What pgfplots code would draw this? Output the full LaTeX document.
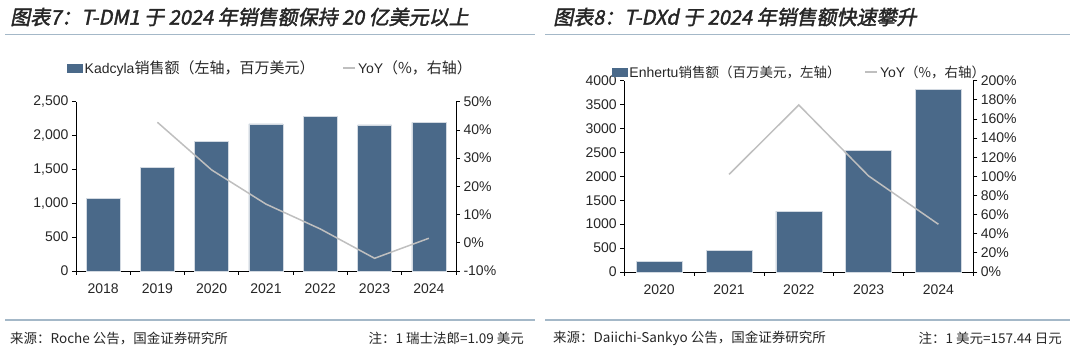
\documentclass[border=0pt]{standalone}
\usepackage{fontspec}
\setmainfont{Liberation Sans}
\newfontfamily\cjk{Noto Sans CJK SC}
\newfontfamily\titlefont[FakeSlant=0.2,FakeBold=2]{Noto Sans CJK SC}
\usepackage{pgfplots}
\pgfplotsset{compat=1.18}
\definecolor{barc}{RGB}{74,105,137}
\definecolor{linec}{RGB}{191,191,191}
\definecolor{rulec}{RGB}{164,184,200}
\definecolor{txt}{RGB}{38,38,38}
\pgfplotsset{
  common/.style={
    scale only axis,
    anchor=south west,
    tick align=outside,
    major tick length=4pt,
    minor tick length=4pt,
    every tick/.style={black, line width=0.8pt},
    axis line style={black, line width=0.8pt},
    /pgf/number format/assume math mode=true,
    tick label style={font=\fontsize{14}{14}\selectfont, text=txt},
    xticklabel style={yshift=-5pt},
    clip=false,
  },
  barimg/.style={legend image code/.code={\fill[barc] (0pt,-4pt) rectangle (15pt,4pt);}},
  lineimg/.style={legend image code/.code={\draw[linec, line width=1.5pt] (0pt,0pt) -- (12pt,0pt);}},
}
\begin{document}
\begin{tikzpicture}[x=1pt,y=1pt]
\path (0,0) rectangle (1080,352);
% ---------- titles and rules ----------
\node[anchor=west, text=txt, font=\titlefont\fontsize{20}{20}\selectfont, inner sep=0pt] at (10,335) {图表7：T-DM1 于 2024 年销售额保持 20 亿美元以上};
\node[anchor=west, text=txt, font=\titlefont\fontsize{20}{20}\selectfont, inner sep=0pt] at (553,335) {图表8：T-DXd 于 2024 年销售额快速攀升};
\draw[rulec, line width=1.5pt] (5,317.5) -- (535,317.5);
\draw[rulec, line width=1.5pt] (545,317.5) -- (1070,317.5);
\draw[rulec, line width=1.5pt] (5,32) -- (535,32);
\draw[rulec, line width=1.5pt] (545,32) -- (1070,32);
\node[anchor=west, text=txt, font=\cjk\fontsize{13.5}{13.5}\selectfont, inner sep=0pt] at (10,14) {来源：Roche 公告，国金证券研究所};
\node[anchor=east, text=txt, font=\cjk\fontsize{13.5}{13.5}\selectfont, inner sep=0pt] at (524,14) {注：1 瑞士法郎=1.09 美元};
\node[anchor=west, text=txt, font=\cjk\fontsize{13.5}{13.5}\selectfont, inner sep=0pt] at (553,14) {来源：Daiichi-Sankyo 公告，国金证券研究所};
\node[anchor=east, text=txt, font=\cjk\fontsize{13.5}{13.5}\selectfont, inner sep=0pt] at (1062,14) {注：1 美元=157.44 日元};
% ---------- left chart ----------
\begin{axis}[common,
  at={(76pt,81pt)}, width=380pt, height=169.3pt,
  xmin=-0.5, xmax=6.5, ymin=0, ymax=2500,
  axis y line*=left, axis x line*=bottom,
  xtick={0,...,6}, xticklabels={2018,2019,2020,2021,2022,2023,2024},
  major x tick style={draw=none},
  minor xtick={-0.5,0.5,...,6.5},
  ytick={0,500,...,2500},
  yticklabel style={/pgf/number format/1000 sep={,}},
  legend style={at={(0.512,1.199)}, anchor=center, draw=none, fill=none,
    font=\fontsize{14}{14}\selectfont, text=txt, inner sep=0pt},
  legend columns=2,
  /tikz/every even column/.append style={column sep=26pt},
]
\addplot[ybar, bar width=34pt, fill=barc, draw=white!75!barc, line width=0.6pt, barimg]
  coordinates {(0,1073) (1,1525) (2,1915) (3,2171) (4,2284) (5,2156) (6,2195)};
\addlegendentry{Kadcyla{\cjk\fontsize{15}{15}\selectfont 销售额（左轴，百万美元）}}
\addlegendimage{lineimg}
\addlegendentry{YoY{\cjk\fontsize{15}{15}\selectfont （\%，右轴）}}
\end{axis}
\begin{axis}[common,
  at={(76pt,81pt)}, width=380pt, height=169.3pt,
  xmin=-0.5, xmax=6.5, ymin=-10, ymax=50,
  axis y line*=right, axis x line=none,
  ytick={-10,0,...,50},
  yticklabel={\pgfmathprintnumber{\tick}\%},
]
\addplot[linec, line width=1.5pt] coordinates {(1,42.7) (2,25.8) (3,13.7) (4,4.9) (5,-5.5) (6,1.6)};
\end{axis}
% ---------- right chart ----------
\begin{axis}[common,
  at={(624.3pt,80pt)}, width=349pt, height=191.3pt,
  xmin=-0.5, xmax=4.5, ymin=0, ymax=4000,
  axis y line*=left, axis x line*=bottom,
  xtick={0,...,4}, xticklabels={2020,2021,2022,2023,2024},
  major x tick style={draw=none},
  minor xtick={-0.5,0.5,...,4.5},
  ytick={0,500,...,4000},
  yticklabel style={/pgf/number format/1000 sep={}},
  legend style={at={(0.502,1.045)}, anchor=center, draw=none, fill=none,
    font=\fontsize{14}{14}\selectfont, text=txt, inner sep=0pt},
  legend columns=2,
  /tikz/every even column/.append style={column sep=22pt},
]
\addplot[ybar, bar width=46pt, fill=barc, draw=white!75!barc, line width=0.6pt, barimg]
  coordinates {(0,216) (1,453) (2,1275) (3,2544) (4,3812)};
\addlegendentry{Enhertu{\cjk\fontsize{13.5}{13.5}\selectfont 销售额（百万美元，左轴）}}
\addlegendimage{lineimg}
\addlegendentry{YoY{\cjk\fontsize{13.5}{13.5}\selectfont （\%，右轴）}}
\end{axis}
\begin{axis}[common,
  at={(624.3pt,80pt)}, width=349pt, height=191.3pt,
  xmin=-0.5, xmax=4.5, ymin=0, ymax=200,
  axis y line*=right, axis x line=none,
  ytick={0,20,...,200},
  yticklabel={\pgfmathprintnumber{\tick}\%},
]
\addplot[linec, line width=1.5pt] coordinates {(1,102) (2,174.6) (3,100.4) (4,49.9)};
\end{axis}
\end{tikzpicture}
\end{document}
